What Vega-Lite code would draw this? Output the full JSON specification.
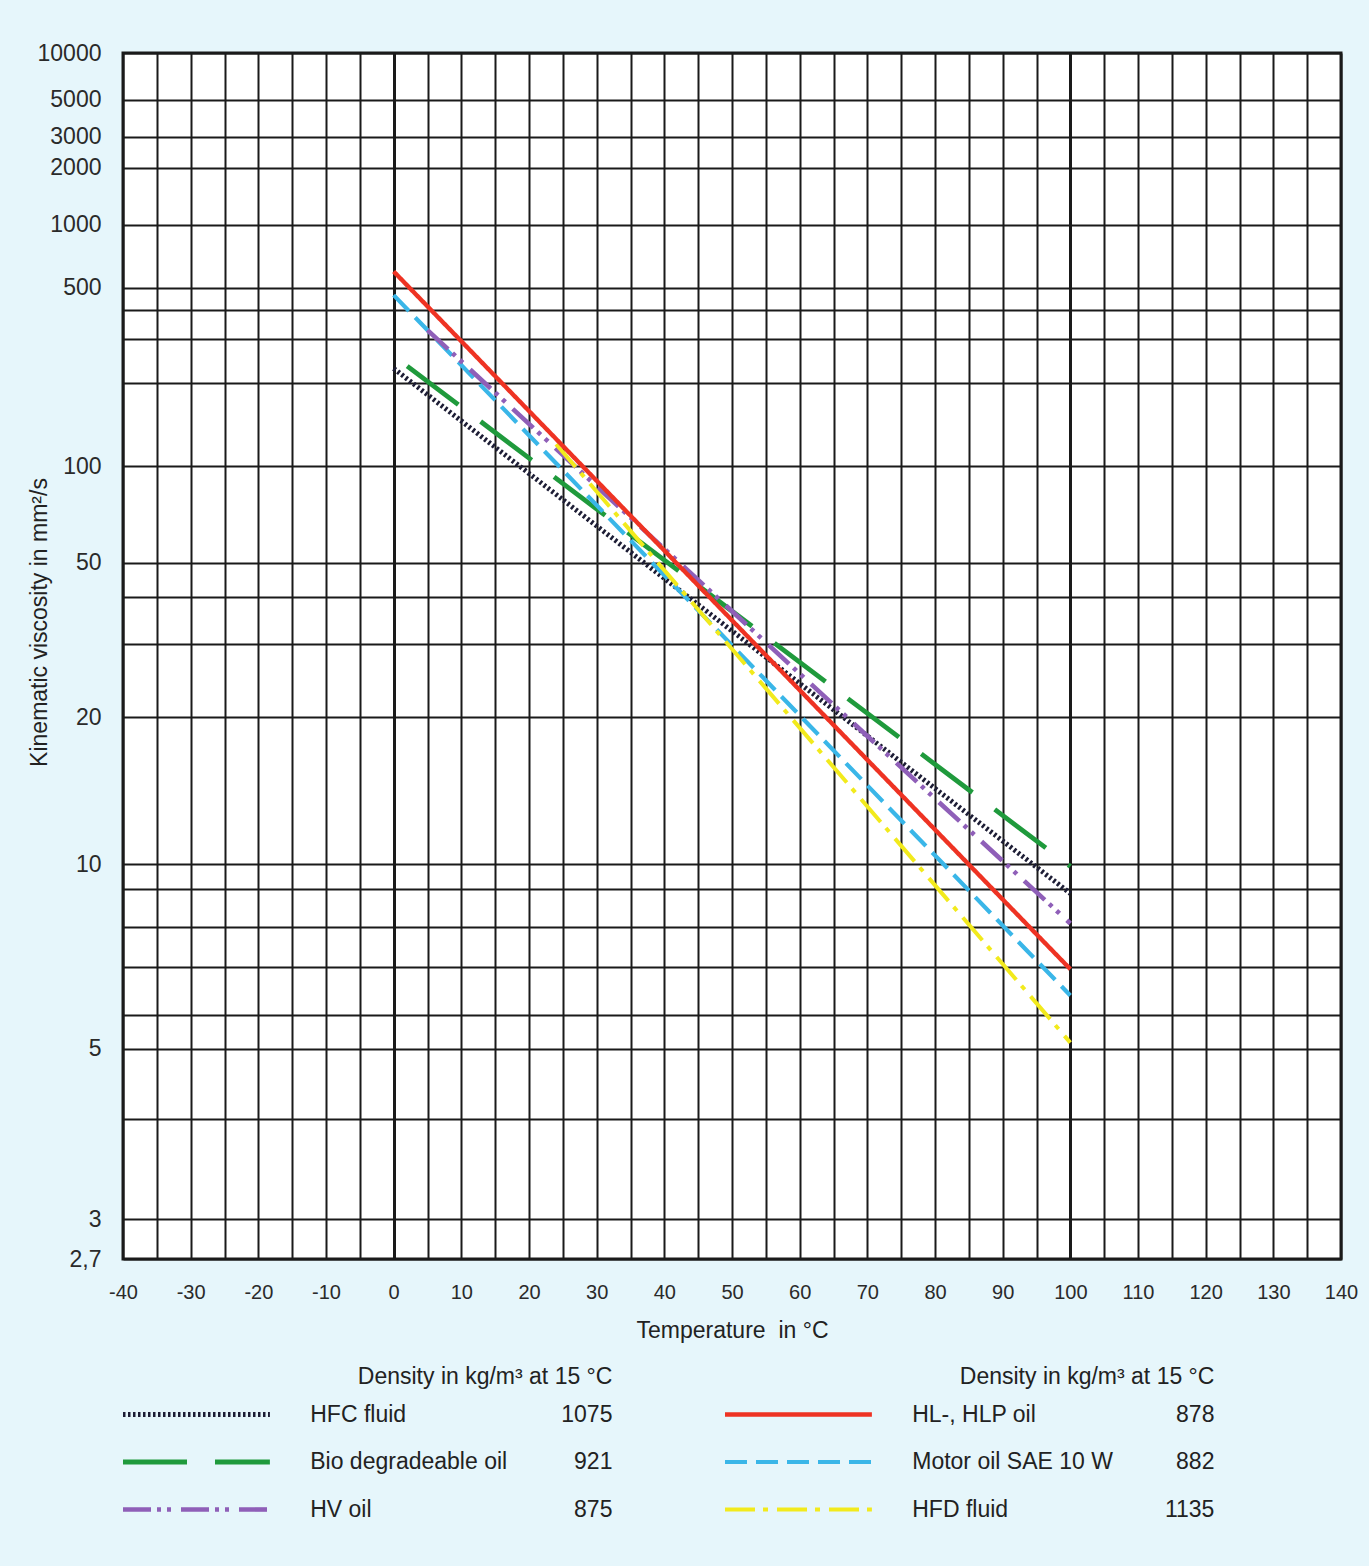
{
  "$schema": "https://vega.github.io/schema/vega-lite/v6.json",
  "background": "#e6f6fb",
  "padding": {"left": 26, "top": 40, "right": 15, "bottom": 44},
  "config": {"font": "Liberation Sans"},
  "spacing": 108,
  "bounds": "flush",
  "resolve": {"scale": {"x": "independent", "y": "independent"}},
  "vconcat": [
    {
      "width": 1218,
      "height": 1206,
      "view": {"fill": "white", "stroke": "#1a1a1a", "strokeWidth": 3},
      "data": {"values": [
        {"fluid": "HFC fluid", "temperature": 0, "viscosity": 228},
        {"fluid": "HFC fluid", "temperature": 100, "viscosity": 8.85},
        {"fluid": "Bio degradeable oil", "temperature": 2, "viscosity": 233},
        {"fluid": "Bio degradeable oil", "temperature": 100, "viscosity": 9.9},
        {"fluid": "Motor oil SAE 10 W", "temperature": 0, "viscosity": 464},
        {"fluid": "Motor oil SAE 10 W", "temperature": 100, "viscosity": 6.0},
        {"fluid": "HV oil", "temperature": 5, "viscosity": 327},
        {"fluid": "HV oil", "temperature": 100, "viscosity": 7.85},
        {"fluid": "HFD fluid", "temperature": 24, "viscosity": 119},
        {"fluid": "HFD fluid", "temperature": 100, "viscosity": 5.1},
        {"fluid": "HL-, HLP oil", "temperature": 0, "viscosity": 595},
        {"fluid": "HL-, HLP oil", "temperature": 100, "viscosity": 6.6}
      ]},
      "transform": [
        {"calculate": "log(log(datum.viscosity + 0.7) / LN10) / LN10", "as": "walther"}
      ],
      "mark": {"type": "line", "strokeCap": "butt"},
      "encoding": {
        "x": {
          "field": "temperature", "type": "quantitative",
          "scale": {"domain": [-40, 140], "nice": false, "zero": false},
          "axis": {
            "values": [-40, -35, -30, -25, -20, -15, -10, -5, 0, 5, 10, 15, 20, 25, 30, 35, 40, 45, 50, 55, 60, 65, 70, 75, 80, 85, 90, 95, 100, 105, 110, 115, 120, 125, 130, 135, 140],
            "labelExpr": "datum.value % 10 == 0 ? '' + datum.value : ''",
            "grid": true, "gridColor": "#1a1a1a", "gridOpacity": 1,
            "gridWidth": {"condition": {"test": "datum.value == 0 || datum.value == 100", "value": 3}, "value": 2},
            "ticks": false, "domain": false,
            "labelFont": "Liberation Sans", "labelFontSize": 20, "labelColor": "#2a2a2a",
            "labelPadding": 23, "labelFlush": false, "labelOverlap": false,
            "title": "Temperature\u00a0 in °C", "titleFont": "Liberation Sans", "titleFontSize": 23,
            "titleFontWeight": "normal", "titleColor": "#222", "titlePadding": 17
          }
        },
        "y": {
          "field": "walther", "type": "quantitative",
          "scale": {"domain": [-0.274495, 0.602063], "nice": false, "zero": false},
          "axis": {
            "values": [0.602063, 0.568088, 0.541232, 0.518669, 0.477165, 0.431296, 0.415444, 0.394125, 0.362209, 0.301687, 0.231726, 0.206716, 0.172351, 0.119246, 0.012577, -0.005783, -0.032987, -0.062345, -0.097268, -0.121576, -0.172569, -0.245491, -0.274495],
            "labelExpr": "abs(pow(10, pow(10, datum.value)) - 0.7 - 2.7) < 0.05 ? '2,7' : (indexof([10000, 5000, 3000, 2000, 1000, 500, 100, 50, 20, 10, 5, 3], round(pow(10, pow(10, datum.value)) - 0.7)) >= 0 ? '' + round(pow(10, pow(10, datum.value)) - 0.7) : '')",
            "grid": true, "gridColor": "#1a1a1a", "gridOpacity": 1, "gridWidth": 2,
            "ticks": false, "domain": false,
            "labelFontSize": 23, "labelColor": "#2a2a2a", "labelPadding": 22,
            "labelFlush": false, "labelOverlap": false, "labelBaseline": "middle",
            "title": "Kinematic viscosity in mm²/s", "titleFontSize": 23, "titleFontWeight": "normal",
            "titleColor": "#222", "titleX": -72, "titleY": 569
          }
        },
        "color": {
          "field": "fluid", "type": "nominal", "legend": null,
          "scale": {
            "domain": ["HFC fluid", "Bio degradeable oil", "HV oil", "HL-, HLP oil", "Motor oil SAE 10 W", "HFD fluid"],
            "range": ["#1d1d35", "#1f9a3c", "#8f5fb8", "#ee3323", "#3ab6e8", "#f2ea1c"]
          }
        },
        "strokeDash": {
          "field": "fluid", "type": "nominal", "legend": null,
          "scale": {
            "domain": ["HFC fluid", "Bio degradeable oil", "HV oil", "HL-, HLP oil", "Motor oil SAE 10 W", "HFD fluid"],
            "range": [[2.5, 2.5], [64, 28], [28, 6, 4, 6, 4, 10], [1, 0], [22, 9], [30, 8, 5, 9]]
          }
        },
        "size": {
          "field": "fluid", "type": "nominal", "legend": null,
          "scale": {
            "domain": ["HFC fluid", "Bio degradeable oil", "HV oil", "HL-, HLP oil", "Motor oil SAE 10 W", "HFD fluid"],
            "range": [5, 4, 4, 4, 4, 4]
          }
        }
      }
    },
    {
      "width": 1204,
      "height": 142.5,
      "view": {"stroke": null, "fill": null},
      "data": {"values": [
        {"row": 1, "col": "L", "fluid": "HFC fluid", "density": 1075},
        {"row": 2, "col": "L", "fluid": "Bio degradeable oil", "density": 921},
        {"row": 3, "col": "L", "fluid": "HV oil", "density": 875},
        {"row": 1, "col": "R", "fluid": "HL-, HLP oil", "density": 878},
        {"row": 2, "col": "R", "fluid": "Motor oil SAE 10 W", "density": 882},
        {"row": 3, "col": "R", "fluid": "HFD fluid", "density": 1135}
      ]},
      "layer": [
        {
          "mark": {"type": "rule", "strokeCap": "butt"},
          "encoding": {
            "x": {"field": "col", "type": "nominal", "bandPosition": 0, "scale": {"paddingInner": 0, "paddingOuter": 0}, "axis": null},
            "x2": {"field": "col", "bandPosition": 0.244},
            "y": {"field": "row", "type": "ordinal", "scale": {"type": "point", "padding": 0}, "axis": null},
            "color": {"field": "fluid", "type": "nominal", "legend": null},
            "strokeDash": {"field": "fluid", "type": "nominal", "legend": null},
            "size": {"field": "fluid", "type": "nominal", "legend": null}
          }
        },
        {
          "mark": {"type": "text", "align": "left", "baseline": "middle", "fontSize": 23, "color": "#222"},
          "encoding": {
            "x": {"field": "col", "type": "nominal", "bandPosition": 0.311, "axis": null},
            "y": {"field": "row", "type": "ordinal", "axis": null},
            "text": {"field": "fluid", "type": "nominal"}
          }
        },
        {
          "mark": {"type": "text", "align": "right", "baseline": "middle", "fontSize": 23, "color": "#222"},
          "encoding": {
            "x": {"field": "col", "type": "nominal", "bandPosition": 0.813, "axis": null},
            "y": {"field": "row", "type": "ordinal", "axis": null},
            "text": {"field": "density", "type": "nominal"}
          }
        },
        {
          "data": {"values": [
            {"row": 0, "col": "L", "header": "Density in kg/m³ at 15 °C"},
            {"row": 0, "col": "R", "header": "Density in kg/m³ at 15 °C"}
          ]},
          "mark": {"type": "text", "align": "right", "baseline": "middle", "fontSize": 23, "color": "#222", "dy": 10},
          "encoding": {
            "x": {"field": "col", "type": "nominal", "bandPosition": 0.813, "axis": null},
            "y": {"field": "row", "type": "ordinal", "axis": null},
            "text": {"field": "header", "type": "nominal"}
          }
        }
      ]
    }
  ]
}
